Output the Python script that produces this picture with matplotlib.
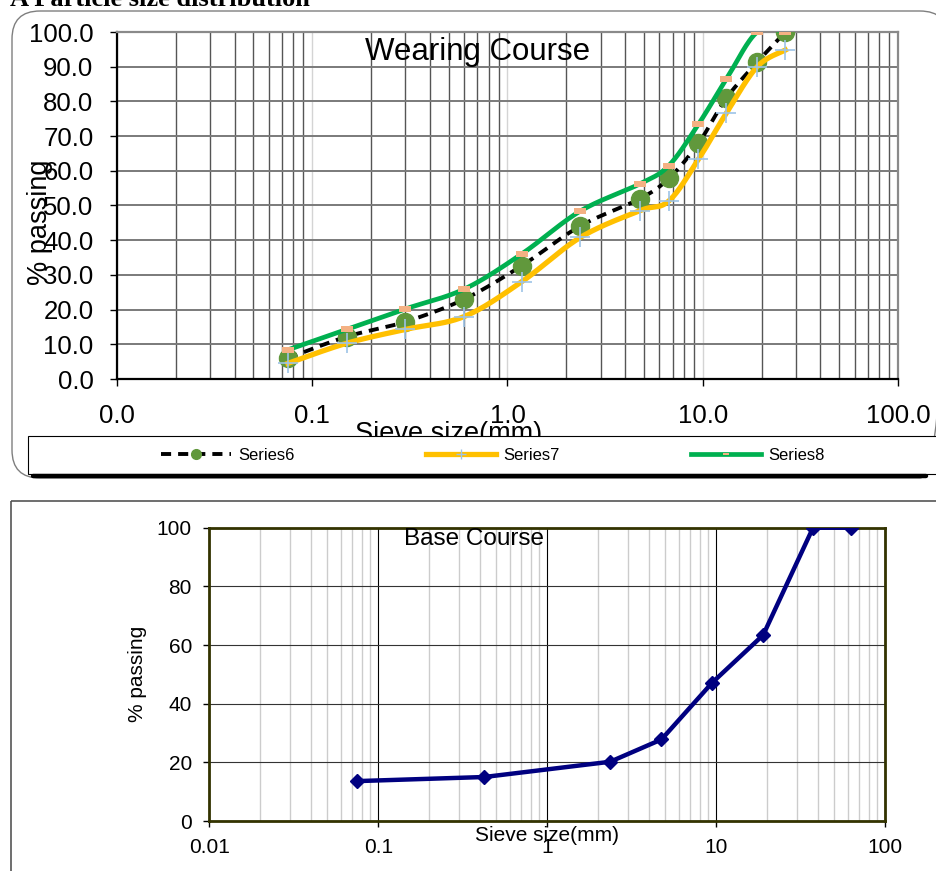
import numpy as np
import matplotlib
matplotlib.use("Agg")
import matplotlib.pyplot as plt
from matplotlib.lines import Line2D
from matplotlib.patches import FancyBboxPatch, Rectangle
from matplotlib.path import Path
from matplotlib.ticker import LogLocator, NullFormatter
from matplotlib.transforms import Affine2D

# -------------
# Data
# -------------

# Wearing course: sieve sizes [mm] and % passing for the three gradings
sieve_wc = [0.075, 0.15, 0.3, 0.6, 1.18, 2.36, 4.75, 6.7, 9.5, 13.2, 19.0, 26.5]
series6 = [6.0, 12.2, 16.5, 23.0, 32.6, 44.1, 51.9, 57.8, 67.9, 80.9, 91.3, 100.0]
series7 = [4.5, 10.3, 14.3, 18.0, 28.0, 40.8, 48.5, 51.3, 63.3, 76.6, 90.0, 94.8]
series8 = [8.4, 14.3, 20.2, 25.9, 36.0, 48.4, 56.2, 61.5, 73.4, 86.4, 100.0, 100.0]
series_names = ["Series6", "Series7", "Series8"]

# Base course grading
sieve_bc = [0.075, 0.425, 2.36, 4.75, 9.5, 19.0, 37.5, 63.0]
passing_bc = [13.6, 15.0, 20.2, 27.8, 47.2, 63.4, 100.0, 100.0]

x_decades = [0.01, 0.1, 1, 10, 100]
wc_xlabels = ["0.0", "0.1", "1.0", "10.0", "100.0"]
wc_yticks = list(range(0, 101, 10))
bc_xlabels = ["0.01", "0.1", "1", "10", "100"]
bc_yticks = list(range(0, 101, 20))

# -------------
# Helpers
# -------------

W, H = 937, 871
plt.rcParams["font.family"] = ["Liberation Sans", "DejaVu Sans"]

fig = plt.figure(figsize=(W / 100, H / 100), dpi=100)
# pixel coordinates measured from the top-left corner
pix = Affine2D().scale(1, -1).translate(0, H)


def fx(px):
    return px / W


def fy(py):
    return 1 - py / H


def smooth(xs, ys, n=40):
    """Bezier smoothing through the points (log x), like a spreadsheet 'smoothed line'."""
    P = np.column_stack([np.log10(xs), np.asarray(ys, dtype=float)])
    Pp = np.vstack([P[0], P, P[-1]])
    t = np.linspace(0, 1, n)[:, None]
    out = []
    for i in range(len(P) - 1):
        p0, p1, p2, p3 = Pp[i], Pp[i + 1], Pp[i + 2], Pp[i + 3]
        c1 = p1 + (p2 - p0) / 6
        c2 = p2 - (p3 - p1) / 6
        seg = (1 - t) ** 3 * p1 + 3 * (1 - t) ** 2 * t * c1 + 3 * (1 - t) * t ** 2 * c2 + t ** 3 * p2
        out.append(seg if i == 0 else seg[1:])
    pts = np.vstack(out)
    return 10 ** pts[:, 0], pts[:, 1]


# flat rectangle marker for Series8
dash_marker = Path([(-1, -0.45), (1, -0.45), (1, 0.45), (-1, 0.45), (-1, -0.45)],
                   [Path.MOVETO, Path.LINETO, Path.LINETO, Path.LINETO, Path.CLOSEPOLY])

# -------------
# Wearing course
# -------------

ax1 = fig.add_axes([fx(117), fy(379), (898 - 117) / W, (379 - 32) / H])
ax1.set_xscale("log")
ax1.set_xlim(0.01, 100)
ax1.set_ylim(0, 100)
ax1.set_axisbelow(True)

ax1.set_xticks(x_decades, labels=wc_xlabels)
ax1.set_yticks(wc_yticks, labels=[f"{v:.1f}" for v in wc_yticks])
ax1.xaxis.set_minor_locator(LogLocator(base=10, subs=np.arange(2, 10)))
ax1.xaxis.set_minor_formatter(NullFormatter())
ax1.tick_params(which="minor", length=0)
ax1.tick_params(which="major", direction="out", length=5, width=1, labelsize=18.5)
ax1.tick_params(axis="x", pad=13)
ax1.tick_params(axis="y", pad=12)

ax1.grid(which="minor", axis="x", color="#555555", lw=1)
ax1.grid(which="major", axis="x", color="#d4d4d4", lw=1)
ax1.grid(which="major", axis="y", color="#7a7a7a", lw=1.4)
for side in ("left", "bottom"):
    ax1.spines[side].set_color("black")
    ax1.spines[side].set_linewidth(1.6)
for side in ("top", "right"):
    ax1.spines[side].set_color("#8a8a8a")
    ax1.spines[side].set_linewidth(1.6)

# Series6: dashed black with green dots
xs, ys = smooth(sieve_wc, series6)
ax1.plot(xs, ys, color="black", lw=2.8, dashes=(2.6, 1.8), zorder=3)
ax1.plot(sieve_wc, series6, ls="none", marker="o", ms=13, mfc="#61983c",
         mec="#61983c", zorder=3)
# Series7: yellow with light blue crosses
xs, ys = smooth(sieve_wc, series7)
ax1.plot(xs, ys, color="#ffc000", lw=3.8, zorder=4)
ax1.plot(sieve_wc, series7, ls="none", marker="+", ms=14, mew=1.2,
         color="#9dc3e6", zorder=4)
# Series8: green with salmon bars
xs, ys = smooth(sieve_wc, series8)
ax1.plot(xs, ys, color="#00b050", lw=3.4, zorder=5)
ax1.plot(sieve_wc, series8, ls="none", marker=dash_marker, ms=8.5, mew=0,
         mfc="#f4b183", zorder=5)

fig.text(fx(478), fy(60), "Wearing Course", fontsize=22.5, ha="center", va="baseline")
fig.text(fx(40), fy(222), "% passing", fontsize=19.5, rotation=90,
         ha="center", va="center")
fig.text(fx(449), fy(421), "Sieve size(mm)", fontsize=19.5, ha="center", va="top",
         zorder=1)

# section heading, mostly above the page edge
fig.text(fx(10), fy(6), "A Particle size distribution", fontsize=19,
         fontfamily="Liberation Serif", fontweight="bold", va="baseline")

# chart frame and legend box
fig.add_artist(FancyBboxPatch((12, 11), 936, 467, boxstyle="round,pad=0,rounding_size=28",
                              transform=pix, facecolor="none", edgecolor="#7f7f7f",
                              lw=1.0, zorder=1))
fig.add_artist(Rectangle((28, 436), 930, 38, transform=pix, facecolor="white",
                         edgecolor="black", lw=0.8, zorder=2))
fig.add_artist(Line2D([33, 926], [476, 476], transform=pix, color="black", lw=3.2,
                      solid_capstyle="round", zorder=2))

handles = [
    Line2D([], [], color="black", lw=2.8, dashes=(2.6, 1.8), marker="o", ms=7,
           mfc="#61983c", mec="#61983c"),
    Line2D([], [], color="#ffc000", lw=3.8, marker="+", ms=7, mew=1, mec="#9dc3e6"),
    Line2D([], [], color="#00b050", lw=3.4, marker=dash_marker, ms=4.5, mew=0,
           mfc="#f4b183"),
]
leg = fig.legend(handles, series_names, loc="center left",
                 bbox_to_anchor=(fx(161), fy(455)), ncol=3, frameon=False,
                 fontsize=12, handlelength=4.2, handletextpad=0.42,
                 columnspacing=7.9, borderaxespad=0, borderpad=0, numpoints=1)
leg.set_zorder(5)

# -------------
# Base course
# -------------

ax2 = fig.add_axes([fx(209.3), fy(821), (885 - 209.3) / W, (821 - 527.7) / H])
ax2.set_xscale("log")
ax2.set_xlim(0.01, 100)
ax2.set_ylim(0, 100)
ax2.set_axisbelow(True)

ax2.set_xticks(x_decades, labels=bc_xlabels)
ax2.set_yticks(bc_yticks, labels=[str(v) for v in bc_yticks])
ax2.xaxis.set_minor_locator(LogLocator(base=10, subs=np.arange(2, 10)))
ax2.xaxis.set_minor_formatter(NullFormatter())
ax2.tick_params(which="minor", length=0)
ax2.tick_params(which="major", direction="out", length=4.5, width=1, labelsize=15,
                pad=8)

ax2.grid(which="minor", axis="x", color="#cccccc", lw=1)
ax2.grid(which="major", axis="x", color="black", lw=0.8)
ax2.grid(which="major", axis="y", color="#333333", lw=0.8)
for side in ax2.spines:
    ax2.spines[side].set_color("#333300")
    ax2.spines[side].set_linewidth(2)

ax2.plot(sieve_bc, passing_bc, color="#000080", lw=3.2, marker="D", ms=7.5,
         mfc="#000080", mec="#000080", zorder=3)

fig.text(fx(474.5), fy(545), "Base Course", fontsize=17.5, ha="center", va="baseline")
fig.text(fx(137.5), fy(674), "% passing", fontsize=15, rotation=90,
         ha="center", va="center")
fig.text(fx(547), fy(826), "Sieve size(mm)", fontsize=15, ha="center", va="top")

fig.add_artist(Rectangle((11, 501), 940, 400, transform=pix, facecolor="none",
                         edgecolor="#555555", lw=1.2, zorder=1))

fig.savefig("out.png", dpi=100)
